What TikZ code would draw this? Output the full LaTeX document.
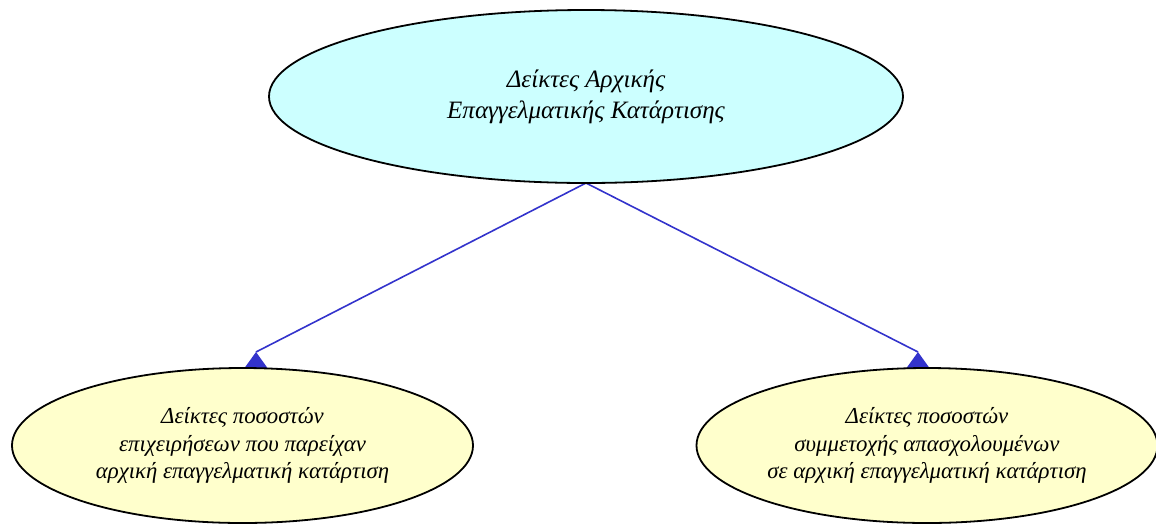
\documentclass[tikz,border=0pt]{standalone}
\usepackage{fontspec}
\setmainfont{Liberation Serif}
\usetikzlibrary{shapes.geometric}
\begin{document}
\begin{tikzpicture}[x=1pt,y=-1pt,
  every node/.style={align=center},
  topnode/.style={ellipse, draw=black, line width=1.8pt, fill=topfill, minimum width=634pt, minimum height=173pt, inner sep=0pt, font=\itshape\fontsize{25}{31}\selectfont},
  leafnode/.style={ellipse, draw=black, line width=1.8pt, fill=leaffill, minimum width=461pt, minimum height=155pt, inner sep=0pt, font=\itshape\fontsize{22.8}{27.5}\selectfont},
  edge/.style={draw=edgeblue, line width=1.6pt},
  tip/.style={fill=edgeblue}]
\definecolor{topfill}{HTML}{CCFFFF}
\definecolor{leaffill}{HTML}{FFFFCC}
\definecolor{edgeblue}{HTML}{3333CC}
\useasboundingbox (0,0) rectangle (1156,523);
\fill[white] (0,0) rectangle (1156,523);
\coordinate (la) at (256,352);
\coordinate (ra) at (918,352);
\draw[edge] (586,183) coordinate (ts) -- (la);
\draw[edge] (ts) -- (ra);
\fill[tip] (la) -- ++(-11.5,16) -- ++(23,0) -- cycle;
\fill[tip] (ra) -- ++(-11.5,16) -- ++(23,0) -- cycle;
\node[topnode] (top) at (586,96.5) {Δείκτες Αρχικής\\Επαγγελματικής Κατάρτισης};
\node[leafnode] (left) at (242.5,445.5) {Δείκτες ποσοστών\\επιχειρήσεων που παρείχαν\\αρχική επαγγελματική κατάρτιση};
\node[leafnode] (right) at (927,445.5) {Δείκτες ποσοστών\\συμμετοχής απασχολουμένων\\σε αρχική επαγγελματική κατάρτιση};
\end{tikzpicture}
\end{document}
